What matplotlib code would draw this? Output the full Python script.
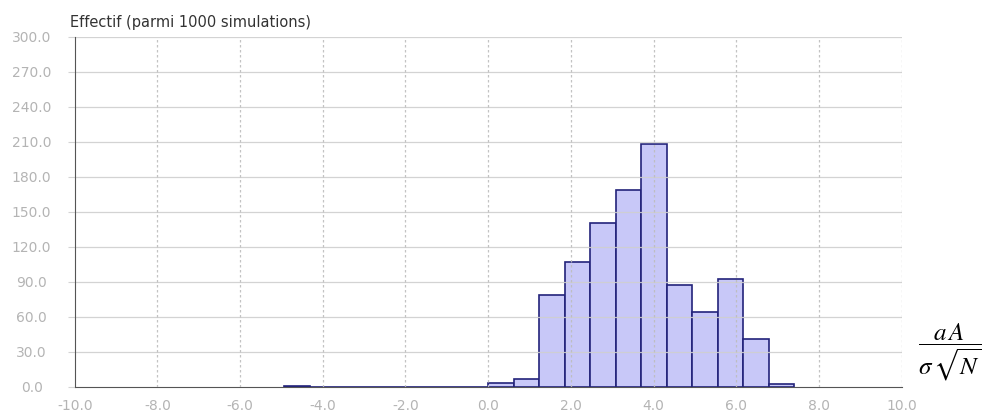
import numpy as np
import matplotlib
matplotlib.use("Agg")
import matplotlib.pyplot as plt
from matplotlib.ticker import FuncFormatter, MultipleLocator

# Histogram data (bin width ~0.617, bins indexed from -8 to 11)
bin_width = 0.617
bin_index = list(range(-8, 12))
counts = [1, 0, 0, 0, 0, 0, 0, 0,
          3, 7, 79, 107, 140, 169, 208, 87, 64, 92, 41, 2]
title_text = "Effectif (parmi 1000 simulations)"
x_label = r"$\dfrac{a\,A}{\sigma\,\sqrt{N}}$"

plt.rcParams['mathtext.fontset'] = 'stix'
plt.rcParams['font.family'] = ['DejaVu Sans']

W, H = 992, 417
fig = plt.figure(figsize=(W / 100, H / 100), dpi=100)
left, right, top, bottom = 74.7, 901.7, 36.7, 386.7
ax = fig.add_axes([left / W, (H - bottom) / H, (right - left) / W, (bottom - top) / H])

lefts = np.array(bin_index) * bin_width
ax.bar(lefts, counts, width=bin_width, align='edge',
       facecolor='#c8c8f8', edgecolor='#23237a', linewidth=1.2, zorder=1)

ax.set_xlim(-10, 10)
ax.set_ylim(0, 300)
ax.xaxis.set_major_locator(MultipleLocator(2))
ax.yaxis.set_major_locator(MultipleLocator(30))
fmt = FuncFormatter(lambda v, p: f"{v:.1f}")
ax.xaxis.set_major_formatter(fmt)
ax.yaxis.set_major_formatter(fmt)

# grid lines drawn over the bars (as in the reference)
for yv in ax.get_yticks():
    if 0 < yv <= 300:
        ax.axhline(yv, color='#cfcfcf', linewidth=0.9, zorder=2, alpha=0.9)
for xv in ax.get_xticks():
    if -10 < xv <= 10:
        ax.axvline(xv, color='#bdbdbd', linewidth=0.9, linestyle=(0, (2, 2)), zorder=2, alpha=0.9)

for s in ['top', 'right']:
    ax.spines[s].set_visible(False)
ax.spines['left'].set_color('#555555')
ax.spines['bottom'].set_color('#555555')
ax.spines['left'].set_zorder(3)
ax.spines['bottom'].set_zorder(0.5)

ax.tick_params(axis='x', length=0, pad=9, labelsize=10, labelcolor='#b4b4b4')
ax.tick_params(axis='y', length=5, color='#d4d4d4', pad=26, labelsize=10, labelcolor='#b4b4b4')
for lab in ax.get_yticklabels():
    lab.set_ha('center')

fig.text(70 / W, (H - 27) / H, title_text, fontsize=10.5, color='#333333', va='baseline', ha='left')
fig.text(950 / W, (H - 352) / H, x_label, fontsize=18, color='black', ha='center', va='center')

fig.savefig('out.png', dpi=100)
